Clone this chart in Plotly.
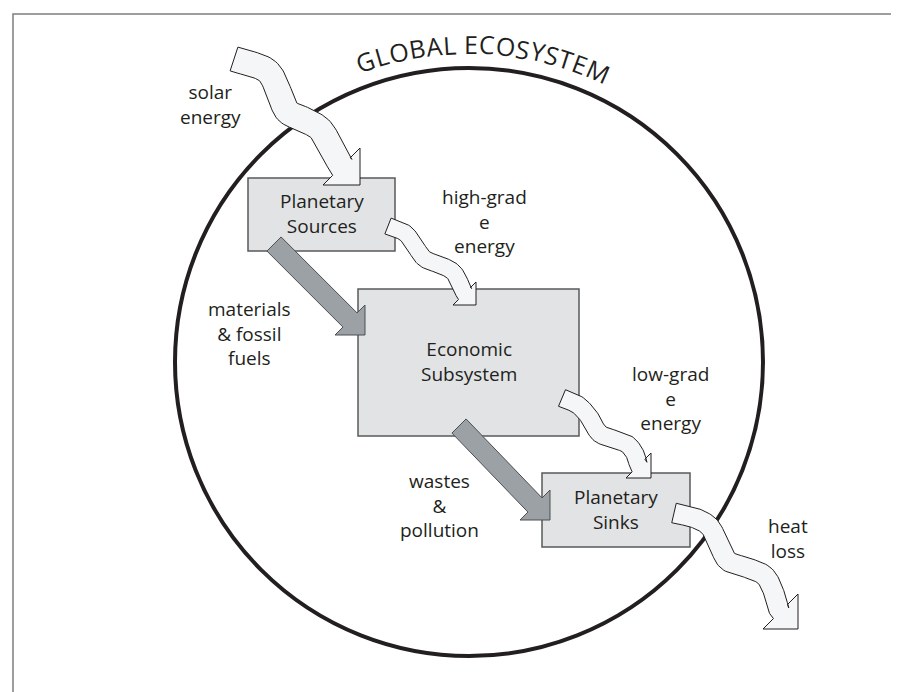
import numpy as np
import plotly.graph_objects as go

W, H = 899, 692
INK = "#231f20"
FONT = "Open Sans"

# ---------------- data (diagram content) ----------------
# process boxes
box_lines = [["Planetary", "Sources"], ["Economic", "Subsystem"], ["Planetary", "Sinks"]]
box_x0 = [240, 350, 534]
box_x1 = [387, 571, 682]
box_y0 = [170, 281, 465]
box_y1 = [243, 428, 539]

# flow labels (centre x, centre y of the whole block)
flow_lines = [["solar", "energy"], ["high-grad", "e", "energy"], ["materials", "& fossil", "fuels"],
              ["low-grad", "e", "energy"], ["wastes", "&", "pollution"], ["heat", "loss"]]
flow_label_x = [202, 476, 241.5, 662, 431, 780]
flow_label_y = [96, 213, 325, 390, 497, 530]

# wavy (energy) arrows: centre-line points, band width, tip corner, head leg
wavy_names = ["solar energy", "high-grade energy", "low-grade energy", "heat loss"]
wavy_x = [[226, 258, 270, 279, 297, 313, 325, 333.5],
          [380, 397, 407, 417, 435, 447, 456.5],
          [554, 570, 582, 591, 605, 619, 627, 630.5],
          [666, 687, 702, 711, 720, 740, 757, 766, 771.5]]
wavy_y = [[51, 62, 82, 103, 112, 122, 143, 158.5],
          [218, 225, 238, 251, 258, 266, 285.5],
          [390, 397, 410, 425, 431, 436, 446, 457.5],
          [505, 510, 519, 537, 553, 560, 568, 585, 604]]
wavy_width = [25, 17, 18, 20]
wavy_tip = [(352, 177), (468, 297), (643, 470), (790, 621)]
wavy_leg = [37, 23, 25, 35]

# solid (material) arrows: tail centre, tip corner
solid_names = ["materials & fossil fuels", "wastes & pollution"]
solid_tail = [(266, 236), (451, 418)]
solid_tip = [(357, 327), (542, 512)]
solid_width = 20
solid_leg = 30

# global ecosystem circle
eco_cx, eco_cy, eco_r = 461, 354, 294
title_text = "GLOBAL ECOSYSTEM"
title_first_angle, title_last_angle = -19.0, 24.0
title_radius = 318

fig = go.Figure()

# frame
fig.add_shape(type="rect", x0=5, y0=6, x1=897, y1=720, line=dict(color="#7d7e80", width=1.5),
              fillcolor="rgba(0,0,0,0)", layer="below")
# ecosystem circle
fig.add_shape(type="circle", x0=eco_cx - eco_r, x1=eco_cx + eco_r, y0=eco_cy - eco_r, y1=eco_cy + eco_r,
              line=dict(color=INK, width=4), layer="below")
# boxes
for x0, x1, y0, y1 in zip(box_x0, box_x1, box_y0, box_y1):
    fig.add_shape(type="rect", x0=x0, x1=x1, y0=y0, y1=y1, fillcolor="#e2e3e5",
                  line=dict(color="#58595b", width=1.5), layer="below")


def catmull(xs, ys, n=14):
    p = np.column_stack([xs, ys]).astype(float)
    p = np.vstack([p[0] * 2 - p[1], p, p[-1] * 2 - p[-2]])
    out = []
    for i in range(1, len(p) - 2):
        p0, p1, p2, p3 = p[i - 1], p[i], p[i + 1], p[i + 2]
        for t in np.linspace(0, 1, n, endpoint=False):
            t2, t3 = t * t, t * t * t
            out.append(0.5 * ((2 * p1) + (-p0 + p2) * t + (2 * p0 - 5 * p1 + 4 * p2 - p3) * t2
                              + (-p0 + 3 * p1 - 3 * p2 + p3) * t3))
    out.append(p[-2])
    return np.array(out)


u = np.array([1.0, -1.0]) / np.sqrt(2)

for xs, ys, w, tip, leg in zip(wavy_x, wavy_y, wavy_width, wavy_tip, wavy_leg):
    c = catmull(xs, ys)
    tg = np.gradient(c, axis=0)
    tg /= np.linalg.norm(tg, axis=1, keepdims=True)
    nrm = np.column_stack([-tg[:, 1], tg[:, 0]])
    upper = c - nrm * w / 2
    lower = c + nrm * w / 2
    M = np.array([tip[0] - leg / 2, tip[1] - leg / 2])
    upper[-1] = M + u * w / 2
    lower[-1] = M - u * w / 2
    A = np.array([tip[0], tip[1] - leg])
    C = np.array(tip, dtype=float)
    B = np.array([tip[0] - leg, tip[1]])
    poly = np.vstack([upper, A, C, B, lower[::-1], upper[:1]])
    fig.add_trace(go.Scatter(x=poly[:, 0], y=poly[:, 1], mode="lines", fill="toself",
                             fillcolor="#f5f6f8", line=dict(color=INK, width=1),
                             hoverinfo="skip", showlegend=False))

for T, tip in zip(solid_tail, solid_tip):
    T = np.array(T, dtype=float)
    C = np.array(tip, dtype=float)
    A = C + np.array([0, -solid_leg])
    B = C + np.array([-solid_leg, 0])
    M = C - np.array([solid_leg / 2, solid_leg / 2])
    hw = solid_width / 2
    poly = np.vstack([T + u * hw, M + u * hw, A, C, B, M - u * hw, T - u * hw, T + u * hw])
    fig.add_trace(go.Scatter(x=poly[:, 0], y=poly[:, 1], mode="lines", fill="toself",
                             fillcolor="#9ca1a6", line=dict(color="#4d4e50", width=1),
                             hoverinfo="skip", showlegend=False))

label_font = dict(family=FONT, size=19, color=INK)
annotations = []
for lines, x0, x1, y0, y1 in zip(box_lines, box_x0, box_x1, box_y0, box_y1):
    annotations.append(dict(x=(x0 + x1) / 2, y=(y0 + y1) / 2 - 1, text="<br>".join(lines),
                            xref="x", yref="y", showarrow=False, xanchor="center", yanchor="middle",
                            align="center", font=label_font))
for lines, lx, ly in zip(flow_lines, flow_label_x, flow_label_y):
    annotations.append(dict(x=lx, y=ly, text="<br>".join(lines), xref="x", yref="y", showarrow=False,
                            xanchor="center", yanchor="middle", align="center", font=label_font))

# curved title
em = {"G": .72, "L": .53, "O": .79, "B": .65, "A": .64, " ": .27, "E": .56, "C": .64,
      "S": .55, "Y": .58, "T": .57, "M": .90}
widths = np.array([em[ch] for ch in title_text])
centers = np.cumsum(widths) - widths / 2
frac = (centers - centers[0]) / (centers[-1] - centers[0])
angles = title_first_angle + frac * (title_last_angle - title_first_angle)
for ch, ang in zip(title_text, angles):
    if ch == " ":
        continue
    rad = np.deg2rad(ang)
    annotations.append(dict(x=eco_cx + title_radius * np.sin(rad), y=eco_cy - title_radius * np.cos(rad),
                            text=ch, xref="x", yref="y", showarrow=False, textangle=float(ang),
                            xanchor="center", yanchor="middle",
                            font=dict(family=FONT, size=25, color=INK)))

fig.update_layout(
    width=W, height=H, margin=dict(l=0, r=0, t=0, b=0),
    paper_bgcolor="white", plot_bgcolor="white",
    xaxis=dict(range=[0, W], visible=False, fixedrange=True),
    yaxis=dict(range=[H, 0], visible=False, fixedrange=True),
    annotations=annotations, showlegend=False,
)
fig.write_html("out.html")
